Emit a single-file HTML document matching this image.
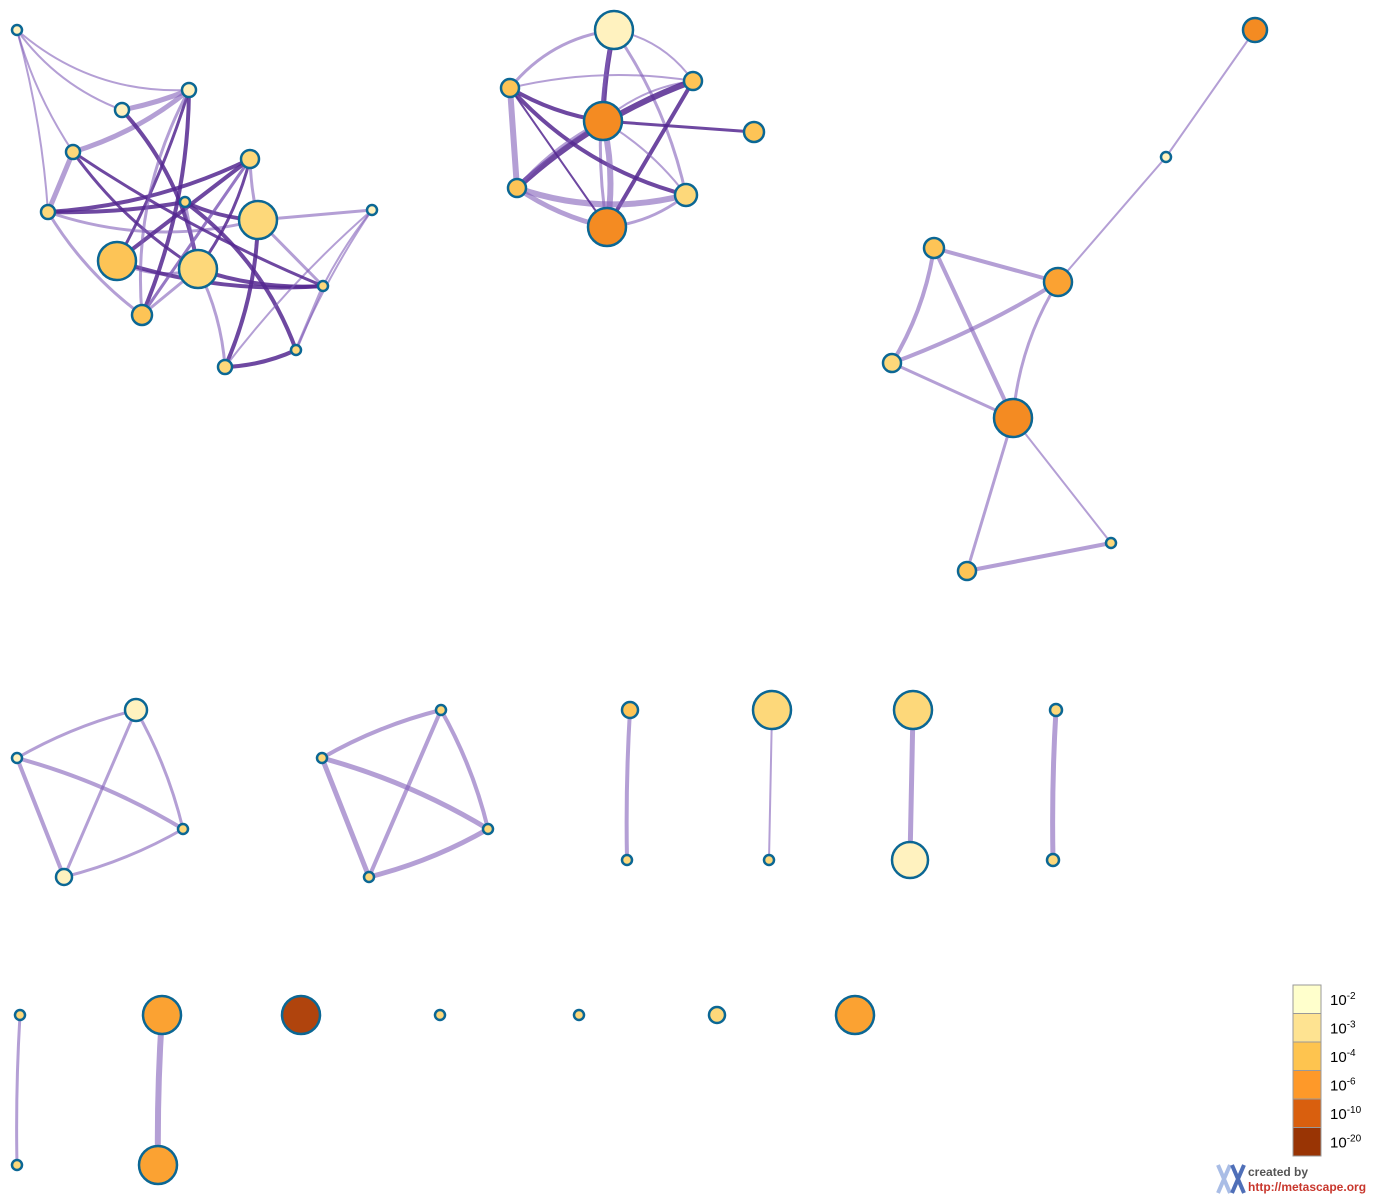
<!DOCTYPE html>
<html><head><meta charset="utf-8">
<style>
html,body{margin:0;padding:0;background:#fff;}
svg{display:block;}
text{font-family:"Liberation Sans",sans-serif;}
</style></head>
<body>
<svg id="net" width="1374" height="1197" viewBox="0 0 1374 1197" xmlns="http://www.w3.org/2000/svg">
<g id="edges"></g>
<g id="nodes"></g>
<g id="legend"></g>
<g>
  <path d="M1218 1165 L1230 1193 M1230 1165 L1218 1193" stroke="#a9bde6" stroke-width="4" fill="none"/>
  <path d="M1232 1165 L1244 1193 M1244 1165 L1232 1193" stroke="#4f6fb8" stroke-width="4" fill="none"/>
  <text x="1248" y="1176" font-size="12" font-weight="bold" fill="#555">created by</text>
  <text x="1248" y="1191" font-size="12" font-weight="bold" fill="#c8372d">http://metascape.org</text>
</g>
</svg>
<script>
// colour classes: 0=1e-2 light,1=1e-3,2=1e-4,3=1e-6,4=1e-10,5=1e-20
const nodeX = [17,189,122,73,48,185,250,258,117,198,142,372,323,296,225,
 614,510,693,603,754,517,686,607,
 1255,1166,934,1058,892,1013,1111,967,
 136,17,183,64, 441,322,488,369, 630,627, 772,769, 913,910, 1056,1053,
 20,17,162,158,301,440,579,717,855];
const nodeY = [30,90,110,152,212,202,159,220,261,269,315,210,286,350,367,
 30,88,81,121,132,188,195,227,
 30,157,248,282,363,418,543,571,
 710,758,829,877, 710,758,829,877, 710,860, 710,860, 710,860, 710,860,
 1015,1165,1015,1165,1015,1015,1015,1015,1015];
const nodeR = [5,7,7,7,7,5,9,19,19,19,10,5,5,5,7,
 19,9,9,19,10,9,11,19,
 12,5,10,14,9,19,5,9,
 11,5,5,8, 5,5,5,5, 8,5, 19,5, 19,18, 6,6,
 5,5,19,19,19,5,5,8,19];
const nodeClass = [0,0,0,1,1,1,1,1,2,1,2,0,1,1,1,
 0,2,2,3,2,2,1,3,
 3,0,2,2.5,1,3,1,2,
 0,0,1,0, 1,1,1,1, 2,1, 1,1, 1,0, 1,1,
 1,1,2.5,2.5,5,1,1,1,2.5];
// edges: source, target, width, dark(1)/light(0), curvature
const edgeSrc = [0,0,0,0,2,3,3,2,1,1,3,4,4,4,4,6,6,6,6,5,5,5,7,7,7,8,8,9,10,10,11,11,11,13,12,14,3,1,
 15,15,15,15,15,16,16,16,16,17,17,17,18,18,18,18,20,20,21,16,
 23,24,25,25,25,27,27,26,28,28,30,
 31,31,31,32,32,34, 35,35,35,36,36,38, 39,41,43,45, 47,49];
const edgeDst = [2,1,3,4,1,1,4,9,10,8,9,6,5,7,10,8,10,9,7,7,13,9,14,11,12,9,12,12,9,6,12,14,13,14,13,9,12,10,
 16,18,22,21,17,18,20,21,17,18,20,22,19,20,21,22,22,21,22,22,
 24,26,26,27,28,26,28,28,30,29,29,
 32,34,33,33,34,33, 36,38,37,37,38,37, 40,42,44,46, 48,50];
const edgeW = [2,2,2,2,5,5,5,4,4,3,3,4,4,3,3,4,3,3,3,4,4,3,4,3,3,3,4,4,3,3,2,2,2,4,3,3,3,3,
 3,5,3,3,2,4,6,4,2,2,6,4,3,3,2,6,5,6,3,2,
 2,2,4,4,4,4,3,3,3,2,4,
 3,3,3,4,4,3, 4,4,4,5,5,5, 4,2,5,5, 3,6];
const edgeDark = [0,0,0,0,0,0,0,1,1,1,1,1,1,0,0,1,0,1,0,1,1,0,1,0,0,0,1,1,0,0,0,0,0,1,0,0,1,0,
 0,1,0,0,0,1,0,1,0,0,1,1,1,0,0,0,0,0,0,1,
 0,0,0,0,0,0,0,0,0,0,0,
 0,0,0,0,0,0, 0,0,0,0,0,0, 0,0,0,0, 0,0];
const edgeCurve = [0.15,0.2,0.08,-0.05,0.05,0.1,0,-0.15,-0.1,-0.05,0.1,0.1,0.05,0.15,0.1,0,0,-0.1,0.05,0.1,-0.15,0,-0.1,0,0,0.2,0.1,0.1,0,0,0.05,0.05,0.05,-0.1,0,0.1,0.05,0.15,
 0.2,0.05,0.1,-0.1,-0.2,0.1,0,0.15,-0.1,0.15,0.1,0,0,0.1,-0.1,-0.1,0.1,0.15,-0.15,0,
 0,0,0,-0.1,0,0.05,0,0.12,0,0,0,
 0.07,0,-0.07,-0.07,0,0.07, 0.07,0,-0.07,-0.07,0,0.07, 0.02,0,0,0.02, 0.02,0.02];
const legendLabels = ["-2","-3","-4","-6","-10","-20"];
const legendColors = ["#ffffcc","#fee391","#fec44f","#fe9929","#d95f0e","#993404"];
const nodeFill = {0:"#fff2bf",1:"#fdd87a",2:"#fdc456",2.5:"#fba232",3:"#f48b22",5:"#b0440d"};

const NS="http://www.w3.org/2000/svg";
const eg=document.getElementById('edges');
for(let i=0;i<edgeSrc.length;i++){
  const a=edgeSrc[i], b=edgeDst[i];
  const x1=nodeX[a],y1=nodeY[a],x2=nodeX[b],y2=nodeY[b];
  const dx=x2-x1, dy=y2-y1;
  const cx=(x1+x2)/2 - dy*edgeCurve[i], cy=(y1+y2)/2 + dx*edgeCurve[i];
  const p=document.createElementNS(NS,'path');
  p.setAttribute('d',`M${x1} ${y1} Q${cx} ${cy} ${x2} ${y2}`);
  p.setAttribute('fill','none');
  p.setAttribute('stroke', edgeDark[i] ? 'rgba(85,40,145,0.85)' : 'rgba(130,95,185,0.6)');
  p.setAttribute('stroke-width', edgeW[i]);
  p.setAttribute('stroke-linecap','round');
  
  
  eg.appendChild(p);
}
const ng=document.getElementById('nodes');
for(let i=0;i<nodeX.length;i++){
  const c=document.createElementNS(NS,'circle');
  c.setAttribute('cx',nodeX[i]);c.setAttribute('cy',nodeY[i]);c.setAttribute('r',nodeR[i]);
  c.setAttribute('fill',nodeFill[nodeClass[i]]);
  c.setAttribute('stroke','#0b6794');c.setAttribute('stroke-width',2.5);
  
  
  ng.appendChild(c);
}
const lg=document.getElementById('legend');
for(let i=0;i<legendLabels.length;i++){
  const y=985+i*28.5;
  const r=document.createElementNS(NS,'rect');
  r.setAttribute('x',1293);r.setAttribute('y',y);r.setAttribute('width',28);r.setAttribute('height',28.5);
  r.setAttribute('fill',legendColors[i]);r.setAttribute('stroke','#999');r.setAttribute('stroke-width',1);
  
  
  lg.appendChild(r);
  const t=document.createElementNS(NS,'text');
  t.setAttribute('x',1330);t.setAttribute('y',y+20);t.setAttribute('font-size',15);t.setAttribute('fill','#000');
  t.innerHTML='10<tspan dy="-6" font-size="10">'+legendLabels[i]+'</tspan>';
  
  
  lg.appendChild(t);
}
</script>
</body></html>
